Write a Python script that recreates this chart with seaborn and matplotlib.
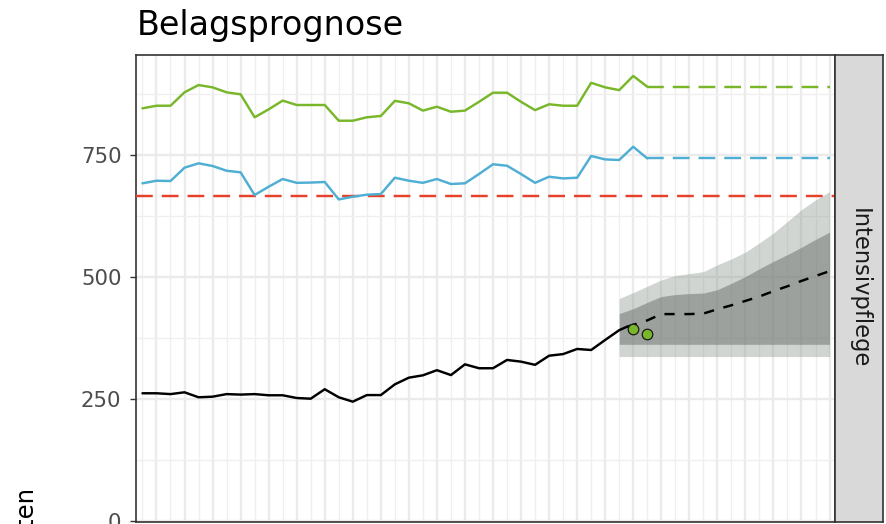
import numpy as np
import pandas as pd
import matplotlib
matplotlib.use("Agg")
import matplotlib.pyplot as plt
import seaborn as sns

# ---------------- data ----------------
hist_week = list(range(35)) + [34.55]
hist_beds = [261.7, 261.7, 260, 263.7, 253.5, 254.7, 260, 259, 260, 257.6,
             257.6, 252, 250.6, 270, 253.5, 244.5, 258, 258, 280, 293.7,
             298.5, 309, 299, 321, 313, 313, 330, 326.5, 320, 338.7,
             342, 352.5, 350.4, 371, 391, 398]

fc_week = [34.55] + list(range(35, 50))
fc_median = [398, 402, 411, 424, 424, 424, 425, 434, 442, 451, 460, 471,
             481, 492, 502, 512]

band_week = list(range(34, 50))
light_hi = [456, 468, 481, 494, 503, 507, 511, 525, 537, 551, 570, 590,
            614, 638, 658, 675]
dark_hi = [425, 435, 448, 460, 464, 466, 467, 474, 487, 501, 517, 532,
           546, 561, 577, 592]
dark_lo = [362] * 16
light_lo = [337] * 16

obs_week = [35, 36]
obs_beds = [392.6, 383.8]

cap_week = list(range(37))
cap_high = [845.7, 851, 851, 878.5, 893.4, 888.7, 878.5, 874.4, 827.3, 843.6,
            861.5, 852.5, 852.5, 852.5, 820.3, 820.3, 827.3, 830, 861, 856,
            841, 849, 838.7, 841, 859, 877.7, 877.7, 859, 842, 854,
            851, 851, 898, 888.7, 883, 912, 890]
cap_low = [692, 697.3, 696.7, 724, 733, 727.5, 717.8, 714.5, 668, 685,
           700.8, 693, 693.5, 694.7, 659, 664.5, 668.7, 670, 703.5, 697.3,
           693, 700.8, 690.6, 692, 711, 731, 728, 711, 693, 705.5,
           702, 703.5, 748, 741, 739.8, 767, 743]
cap_fc_week = [36, 49]
cap_high_fc = [890, 890]
cap_low_fc = [743, 743]

threshold = 666

title = "Belagsprognose"
facet_label = "Intensivpflege"
y_label = "Belegte Betten"
y_ticks = [0, 250, 500, 750]
y_minor = [125, 375, 625, 875]

# ---------------- style ----------------
sns.set_theme(style="white")
plt.rcParams["font.family"] = ["DejaVu Sans"]

GREEN = "#79B72A"
BLUE = "#4FAED3"
RED = "#E8412B"
FRAME = "#333333"
LW = 1.75

W, H = 887, 524
fig = plt.figure(figsize=(W / 100, H / 100), dpi=100)
fig.patch.set_facecolor("white")

pl, pr, pt, pb = 136, 835, 54.5, 521.7
ax = fig.add_axes([pl / W, 1 - pb / H, (pr - pl) / W, (pb - pt) / H])

# bands (semi-transparent like the reference, grid shows through)
ax.fill_between(band_week, light_lo, light_hi, color="#8C978F", alpha=0.4,
                lw=0, zorder=2)
ax.fill_between(band_week, dark_lo, dark_hi, color="#696F6C", alpha=0.5,
                lw=0, zorder=3)

# threshold
ax.axhline(threshold, color=RED, lw=LW, linestyle=(0, (6.9, 3.7)), zorder=4)

df_hist = pd.DataFrame({"week": hist_week, "beds": hist_beds})
df_fc = pd.DataFrame({"week": fc_week, "beds": fc_median})
df_hi = pd.DataFrame({"week": cap_week, "beds": cap_high})
df_lo = pd.DataFrame({"week": cap_week, "beds": cap_low})
df_hi_fc = pd.DataFrame({"week": cap_fc_week, "beds": cap_high_fc})
df_lo_fc = pd.DataFrame({"week": cap_fc_week, "beds": cap_low_fc})
df_obs = pd.DataFrame({"week": obs_week, "beds": obs_beds})

sns.lineplot(data=df_hi, x="week", y="beds", color=GREEN, lw=LW, ax=ax,
             sort=False, zorder=5)
sns.lineplot(data=df_hi_fc, x="week", y="beds", color=GREEN, lw=LW, ax=ax,
             sort=False, zorder=5, linestyle=(0, (6.9, 3.7)))
sns.lineplot(data=df_lo, x="week", y="beds", color=BLUE, lw=LW, ax=ax,
             sort=False, zorder=5)
sns.lineplot(data=df_lo_fc, x="week", y="beds", color=BLUE, lw=LW, ax=ax,
             sort=False, zorder=5, linestyle=(0, (6.9, 3.7)))
sns.lineplot(data=df_hist, x="week", y="beds", color="black", lw=LW, ax=ax,
             sort=False, zorder=6)
sns.lineplot(data=df_fc, x="week", y="beds", color="black", lw=LW, ax=ax,
             sort=False, zorder=6, linestyle=(0, (4.2, 4.0)))
sns.scatterplot(data=df_obs, x="week", y="beds", color=GREEN, s=58,
                edgecolor="#1a1a1a", linewidth=0.9, ax=ax, zorder=7)

# axes
ax.set_xlim(-0.46, 49.39)
ax.set_ylim(-1.5, 956)
ax.set_xticks(list(range(1, 50, 2)))
ax.set_xticks(list(range(0, 50, 2)), minor=True)
ax.set_yticks(y_ticks)
ax.set_yticks(y_minor, minor=True)
ax.set_yticklabels([str(v) for v in y_ticks])
ax.tick_params(axis="x", which="both", length=0, labelbottom=False)
ax.tick_params(axis="y", which="major", length=4, width=1, color=FRAME,
               labelsize=15.3, labelcolor="#4D4D4D", pad=6.5, left=True)
ax.tick_params(axis="y", which="minor", length=0)
ax.grid(which="major", color="#EBEBEB", lw=1.7)
ax.grid(which="minor", color="#EFEFEF", lw=0.9)
ax.set_axisbelow(True)
ax.set_xlabel("")
ax.set_ylabel("")
for s in ax.spines.values():
    s.set_color(FRAME)
    s.set_linewidth(1.2)
    s.set_visible(True)

# facet strip
sx0, sx1 = 835.5, 883.5
sax = fig.add_axes([sx0 / W, 1 - pb / H, (sx1 - sx0) / W, (pb - pt) / H])
sax.set_facecolor("#D9D9D9")
sax.set_xticks([])
sax.set_yticks([])
for s in sax.spines.values():
    s.set_color(FRAME)
    s.set_linewidth(1.2)
    s.set_visible(True)
sax.text(0.5, 0.5, facet_label, rotation=-90, ha="center", va="center",
         fontsize=16.3, color="#1A1A1A", transform=sax.transAxes)

# title and y label
fig.text(137 / W, 1 - 35 / H, title, fontsize=24, color="black",
         ha="left", va="baseline")
fig.text(27 / W, 1 - 488 / H, y_label, rotation=90, fontsize=17.5,
         color="black", ha="center", va="top")

fig.savefig("out.png", dpi=100)
